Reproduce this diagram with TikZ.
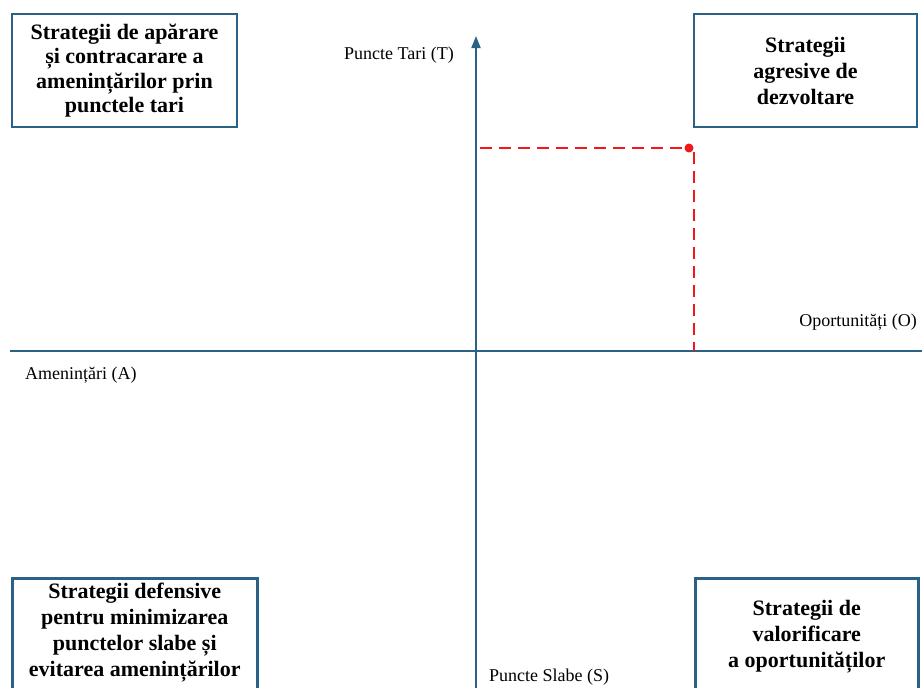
\documentclass[tikz,border=0pt]{standalone}
\usepackage{fontspec}
\setmainfont{Liberation Serif}
\usetikzlibrary{positioning, arrows.meta}
\definecolor{swotBlue}{RGB}{41, 98, 133}
\definecolor{swotRed}{RGB}{240, 24, 24}

\begin{document}
\begin{tikzpicture}[
    x=1pt, y=-1pt,
    box/.style={rectangle, draw=swotBlue, line width=2.5pt, align=center,
                font=\fontsize{22}{26}\selectfont\bfseries, inner sep=0pt},
    boxtext/.style={align=center, inner sep=0pt,
                font=\fontsize{22}{26}\selectfont\bfseries},
    axis/.style={draw=swotBlue, line width=1.8pt},
    lbl/.style={font=\fontsize{18}{20}\selectfont, inner sep=0pt},
    guide/.style={draw=swotRed, line width=2.2pt, dash pattern=on 12pt off 7pt},
  ]
    \useasboundingbox (0,0) rectangle (922,688);

    % axes
    \coordinate (origin) at (476,351);
    \coordinate (yTop) at (476,36);
    \coordinate (yBot) at (476,700);
    \coordinate (xLeft) at (10,351);
    \coordinate (xRight) at (930,351);
    \draw[axis] (xLeft) -- (xRight);
    \draw[axis, -{Triangle[length=12pt, width=9pt]}] (yBot) -- (yTop);

    % quadrant boxes
    \node[box, minimum width=225, minimum height=113, font=\fontsize{22}{24.5}\selectfont\bfseries]
         (TL) at (124.5,70.5)
         {Strategii de apărare\\și contracarare a\\amenințărilor prin\\punctele tari};
    \node[box, minimum width=223, minimum height=113] (TR) at (805.5,70.5)
         {Strategii\\agresive de\\dezvoltare};
    \node[box, minimum width=245, minimum height=130, anchor=north west] (BL) at (11,577) {};
    \node[boxtext, below=6pt of BL.north] (BLtext)
         {Strategii defensive\\pentru minimizarea\\punctelor slabe și\\evitarea amenințărilor};
    \node[box, minimum width=223, minimum height=130, anchor=north west] (BR) at (694,577) {};
    \node[boxtext, below=23pt of BR.north] (BRtext)
         {Strategii de\\valorificare\\a oportunităților};

    % axis labels
    \node[lbl, anchor=east] (T) at (454,55) {Puncte Tari (T)};
    \node[lbl, anchor=east] (O) at (917,322) {Oportunități (O)};
    \node[lbl, anchor=west] (A) at (25,375) {Amenințări (A)};
    \node[lbl, anchor=west] (S) at (489,677) {Puncte Slabe (S)};

    % position point
    \coordinate (P) at (689,148);
    \draw[guide] ([xshift=4pt]P -| origin) -- (P);
    \draw[guide] ([xshift=5pt, yshift=-4pt]P) -- ([xshift=5pt]P |- origin);
    \fill[swotRed] (P) circle (4.5pt);
\end{tikzpicture}
\end{document}
